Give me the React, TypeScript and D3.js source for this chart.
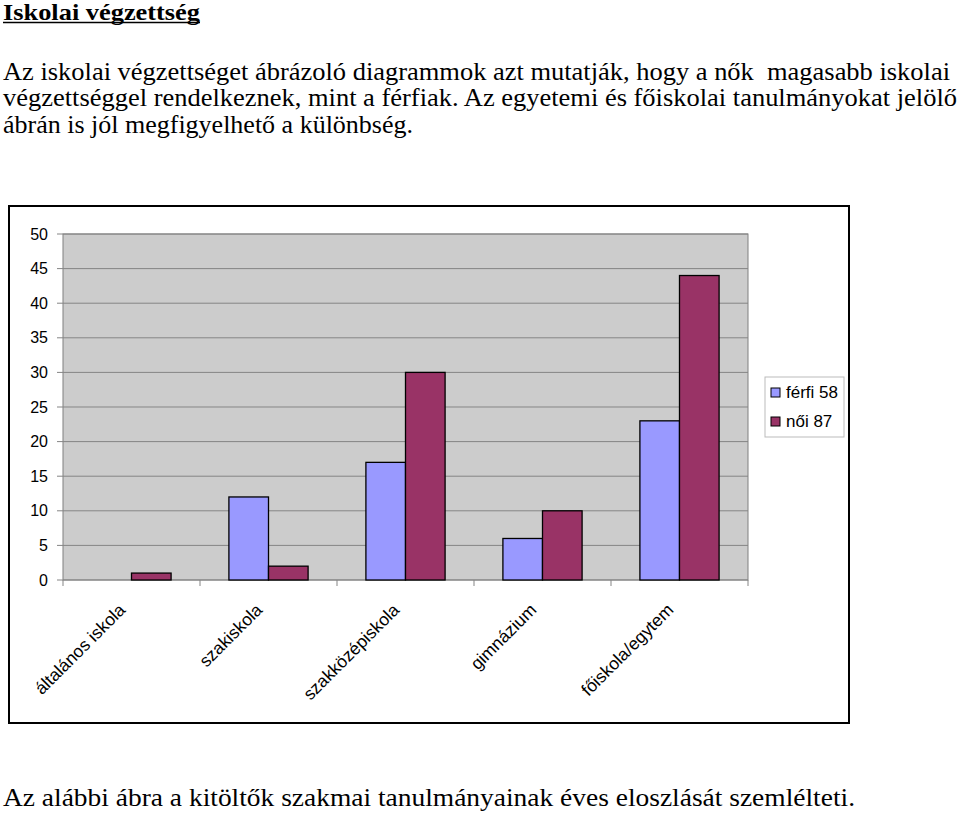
import React from "react";
import * as d3 from "d3";

const categories = ["általános iskola", "szakiskola", "szakközépiskola", "gimnázium", "főiskola/egytem"];
const ferfi = [0, 12, 17, 6, 23];
const noi = [1, 2, 30, 10, 44];
const seriesNames = ["férfi 58", "női 87"];
const seriesColors = ["#9999FF", "#993366"];
const yTicks = [0, 5, 10, 15, 20, 25, 30, 35, 40, 45, 50];

const title = "Iskolai végzettség";
const paragraph = [
  "Az iskolai végzettséget ábrázoló diagrammok azt mutatják, hogy a nők  magasabb iskolai",
  "végzettséggel rendelkeznek, mint a férfiak. Az egyetemi és főiskolai tanulmányokat jelölő",
  "ábrán is jól megfigyelhető a különbség.",
];
const paragraphWidths = [947, 954, 410];
const paragraphBaselines = [80, 106, 133];
const footer = "Az alábbi ábra a kitöltők szakmai tanulmányainak éves eloszlását szemlélteti.";

export default function App() {
  const W = 960, H = 815;
  const plot = { left: 63, right: 748, top: 234, bottom: 580 };
  const x = d3.scaleBand<string>().domain(categories).range([plot.left, plot.right]).paddingInner(0).paddingOuter(0);
  const inner = d3.scaleBand<number>().domain([0, 1]).range([0, x.bandwidth()]).paddingInner(0).paddingOuter(0.73);
  const y = d3.scaleLinear().domain([0, 50]).range([plot.bottom, plot.top]);
  const serif = "'Liberation Serif', 'Times New Roman', serif";
  const sans = "'Liberation Sans', Arial, sans-serif";
  const series = [ferfi, noi];

  return (
    <svg width={W} height={H} style={{ position: "absolute", left: 0, top: 0 }}>
      <rect x={0} y={0} width={W} height={H} fill="#fff" />
      <text x={3} y={19.5} fontFamily={serif} fontSize={23} fontWeight="bold" textLength={197} lengthAdjust="spacingAndGlyphs">{title}</text>
      <line x1={3} x2={200} y1={22.5} y2={22.5} stroke="#000" strokeWidth={1.5} />
      {paragraph.map((l, i) => (
        <text key={i} x={3} y={paragraphBaselines[i]} fontFamily={serif} fontSize={25} textLength={paragraphWidths[i]} lengthAdjust="spacingAndGlyphs" style={{ whiteSpace: "pre" }}>{l}</text>
      ))}
      <text x={3} y={806} fontFamily={serif} fontSize={25} textLength={852} lengthAdjust="spacingAndGlyphs">{footer}</text>

      <rect x={9} y={206} width={840} height={517} fill="#fff" stroke="#000" strokeWidth={2} />
      <rect x={plot.left} y={plot.top} width={plot.right - plot.left} height={plot.bottom - plot.top} fill="#CCCCCC" stroke="#808080" strokeWidth={1} />
      {yTicks.map((t) => (
        <g key={t}>
          {t > 0 && <line x1={plot.left} x2={plot.right} y1={y(t)} y2={y(t)} stroke="#858585" strokeWidth={1} />}
          <line x1={plot.left - 6} x2={plot.left} y1={y(t)} y2={y(t)} stroke="#858585" />
          <text x={48} y={y(t) + 5.5} textAnchor="end" fontFamily={sans} fontSize={16}>{t}</text>
        </g>
      ))}
      <line x1={plot.left} x2={plot.right} y1={plot.bottom} y2={plot.bottom} stroke="#858585" />
      {categories.map((c) => (
        <line key={c} x1={x(c)!} x2={x(c)!} y1={plot.bottom} y2={plot.bottom + 6} stroke="#858585" />
      ))}
      <line x1={plot.right} x2={plot.right} y1={plot.bottom} y2={plot.bottom + 6} stroke="#858585" />
      {series.map((vals, s) =>
        vals.map((v, i) =>
          v > 0 ? (
            <rect key={`${s}-${i}`} x={x(categories[i])! + inner(s)!} y={y(v)} width={inner.bandwidth()} height={y(0) - y(v)}
              fill={seriesColors[s]} stroke="#000" strokeWidth={1.3} />
          ) : null
        )
      )}
      {categories.map((c) => {
        const cx = x(c)! + x.bandwidth() / 2 - 5;
        return (
          <text key={c} transform={`translate(${cx},${611}) rotate(-45)`} textAnchor="end" fontFamily={sans} fontSize={17.5}>{c}</text>
        );
      })}
      <rect x={765} y={377} width={79} height={60} fill="#fff" stroke="#bbb" strokeWidth={1} />
      {seriesNames.map((n, i) => (
        <g key={n}>
          <rect x={771} y={388 + i * 29} width={9} height={9} fill={seriesColors[i]} stroke="#000" strokeWidth={1} />
          <text x={786} y={398 + i * 29} fontFamily={sans} fontSize={17}>{n}</text>
        </g>
      ))}
    </svg>
  );
}
